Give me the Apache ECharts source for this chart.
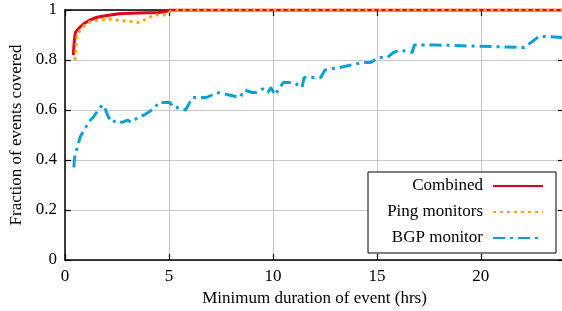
<!DOCTYPE html>
<html>
<head>
<meta charset="utf-8">
<script src="https://cdn.jsdelivr.net/npm/echarts@6.0.0/dist/echarts.min.js"></script>
<style>
  html, body { margin: 0; padding: 0; background: #fff; }
  #chart { width: 562px; height: 311px; }
</style>
</head>
<body>
<div id="chart"></div>
<script>
// 数据：[小时, 覆盖比例]
const seriesNames = ['Combined', 'Ping monitors', 'BGP monitor'];
const xTicks = [0, 5, 10, 15, 20];
const yTicks = [0, 0.2, 0.4, 0.6, 0.8, 1];

const combined = [
  [0.4, 0.82], [0.45, 0.88], [0.5, 0.91], [0.7, 0.93], [0.9, 0.945], [1.2, 0.96],
  [1.5, 0.97], [1.8, 0.975], [2.2, 0.98], [2.6, 0.985], [3.5, 0.988], [4.5, 0.99],
  [4.9, 0.995], [5.0, 1.0], [24, 1.0]
];

const ping = [
  [0.48, 0.80], [0.53, 0.85], [0.58, 0.90], [0.82, 0.93], [1.1, 0.95], [1.6, 0.96],
  [2.2, 0.963], [2.75, 0.957], [3.25, 0.953], [3.6, 0.95], [3.95, 0.966], [4.3, 0.98],
  [4.8, 0.98], [5.05, 0.993], [5.3, 1.0], [24, 1.0]
];

const bgp = [
  [0.43, 0.37], [0.45, 0.40], [0.5, 0.43], [0.6, 0.45], [0.72, 0.49], [0.85, 0.51],
  [1.0, 0.53], [1.1, 0.55], [1.35, 0.57], [1.6, 0.60], [1.8, 0.62], [1.92, 0.61],
  [2.0, 0.59], [2.1, 0.57], [2.26, 0.55], [2.5, 0.56], [2.74, 0.55], [3.0, 0.56],
  [3.2, 0.55], [3.5, 0.57], [3.8, 0.58], [4.0, 0.59], [4.33, 0.61], [4.5, 0.63],
  [4.8, 0.63], [5.05, 0.63], [5.2, 0.61], [5.5, 0.61], [5.8, 0.60], [6.0, 0.63],
  [6.15, 0.65], [6.5, 0.65], [6.8, 0.65], [7.07, 0.66], [7.3, 0.67], [7.6, 0.665],
  [7.9, 0.66], [8.4, 0.65], [8.65, 0.68], [9.0, 0.67], [9.2, 0.67], [9.5, 0.685],
  [9.76, 0.67], [9.9, 0.69], [10.1, 0.66], [10.5, 0.71], [11.0, 0.71], [11.4, 0.69],
  [11.5, 0.73], [12.0, 0.73], [12.3, 0.73], [12.5, 0.76], [13.2, 0.77], [14.3, 0.79],
  [14.7, 0.79], [15.1, 0.81], [15.5, 0.81], [15.8, 0.83], [16.1, 0.84], [16.7, 0.83],
  [16.8, 0.86], [17.9, 0.86], [19.5, 0.856], [22.1, 0.85], [22.8, 0.895], [24, 0.89]
];

const font = 'Liberation Serif, Times New Roman, serif';

const chart = echarts.init(document.getElementById('chart'));

// 坐标轴公共样式
const axisBase = {
  axisLine: { show: true, onZero: false, lineStyle: { color: '#000', width: 1.5 } },
  axisTick: { show: true, inside: true, length: 6, lineStyle: { color: '#000', width: 1.2 } },
  splitLine: { show: false }
};

const option = {
  animation: false,
  backgroundColor: '#fff',
  textStyle: { fontFamily: font },
  grid: { left: 65, right: -2, top: 10, bottom: 51, outerBoundsMode: 'none', containLabel: false },
  legend: {
    orient: 'vertical',
    left: 368,
    top: 172,
    align: 'right',
    data: seriesNames,
    itemWidth: 50,
    itemHeight: 10,
    itemGap: 6,
    padding: [4, 12, 5, 4],
    backgroundColor: '#fff',
    borderColor: '#000',
    borderWidth: 1,
    borderRadius: 0,
    itemStyle: { opacity: 0 },
    textStyle: {
      fontFamily: font, fontSize: 17, color: '#000', lineHeight: 20,
      width: 111, align: 'right', padding: [0, 5, 0, 0]
    }
  },
  xAxis: [
    Object.assign({}, axisBase, {
      type: 'value', min: 0, max: 24, interval: 5,
      name: 'Minimum duration of event (hrs)',
      nameLocation: 'middle', nameGap: 28,
      nameTextStyle: { fontFamily: font, fontSize: 17, color: '#000' },
      axisLabel: {
        fontFamily: font, fontSize: 17, color: '#000', margin: 8, showMaxLabel: false,
        formatter: v => (xTicks.includes(v) ? String(v) : '')
      },
      splitLine: { show: true, lineStyle: { color: '#c8c8c8', width: 1 } }
    }),
    Object.assign({}, axisBase, {
      type: 'value', min: 0, max: 24, interval: 5, position: 'top',
      axisLabel: { show: false }
    })
  ],
  yAxis: [
    Object.assign({}, axisBase, {
      type: 'value', min: 0, max: 1, interval: 0.2,
      name: 'Fraction of events covered',
      nameLocation: 'middle', nameGap: 37,
      nameTextStyle: { fontFamily: font, fontSize: 17, color: '#000' },
      axisLabel: {
        fontFamily: font, fontSize: 17, color: '#000', margin: 8,
        formatter: v => {
          const t = yTicks.find(y => Math.abs(y - v) < 1e-9);
          return t === undefined ? '' : String(t);
        }
      },
      splitLine: { show: true, lineStyle: { color: '#c8c8c8', width: 1 } }
    }),
    Object.assign({}, axisBase, {
      type: 'value', min: 0, max: 1, interval: 0.2, position: 'right',
      axisLabel: { show: false }
    })
  ],
  series: [
    {
      name: 'Combined', type: 'line', data: combined, showSymbol: false, symbol: 'none',
      lineStyle: { color: '#e4001b', width: 3 }, itemStyle: { color: '#e4001b' }, z: 3
    },
    {
      name: 'Ping monitors', type: 'line', data: ping, showSymbol: false, symbol: 'none',
      lineStyle: { color: '#ffa216', width: 3, type: [3, 4] }, itemStyle: { color: '#ffa216' }, z: 4
    },
    {
      name: 'BGP monitor', type: 'line', data: bgp, showSymbol: false, symbol: 'none',
      lineStyle: { color: '#0aa0d8', width: 3, type: [12, 5, 3, 5] }, itemStyle: { color: '#0aa0d8' }, z: 2
    }
  ]
};

chart.setOption(option);
</script>
</body>
</html>
